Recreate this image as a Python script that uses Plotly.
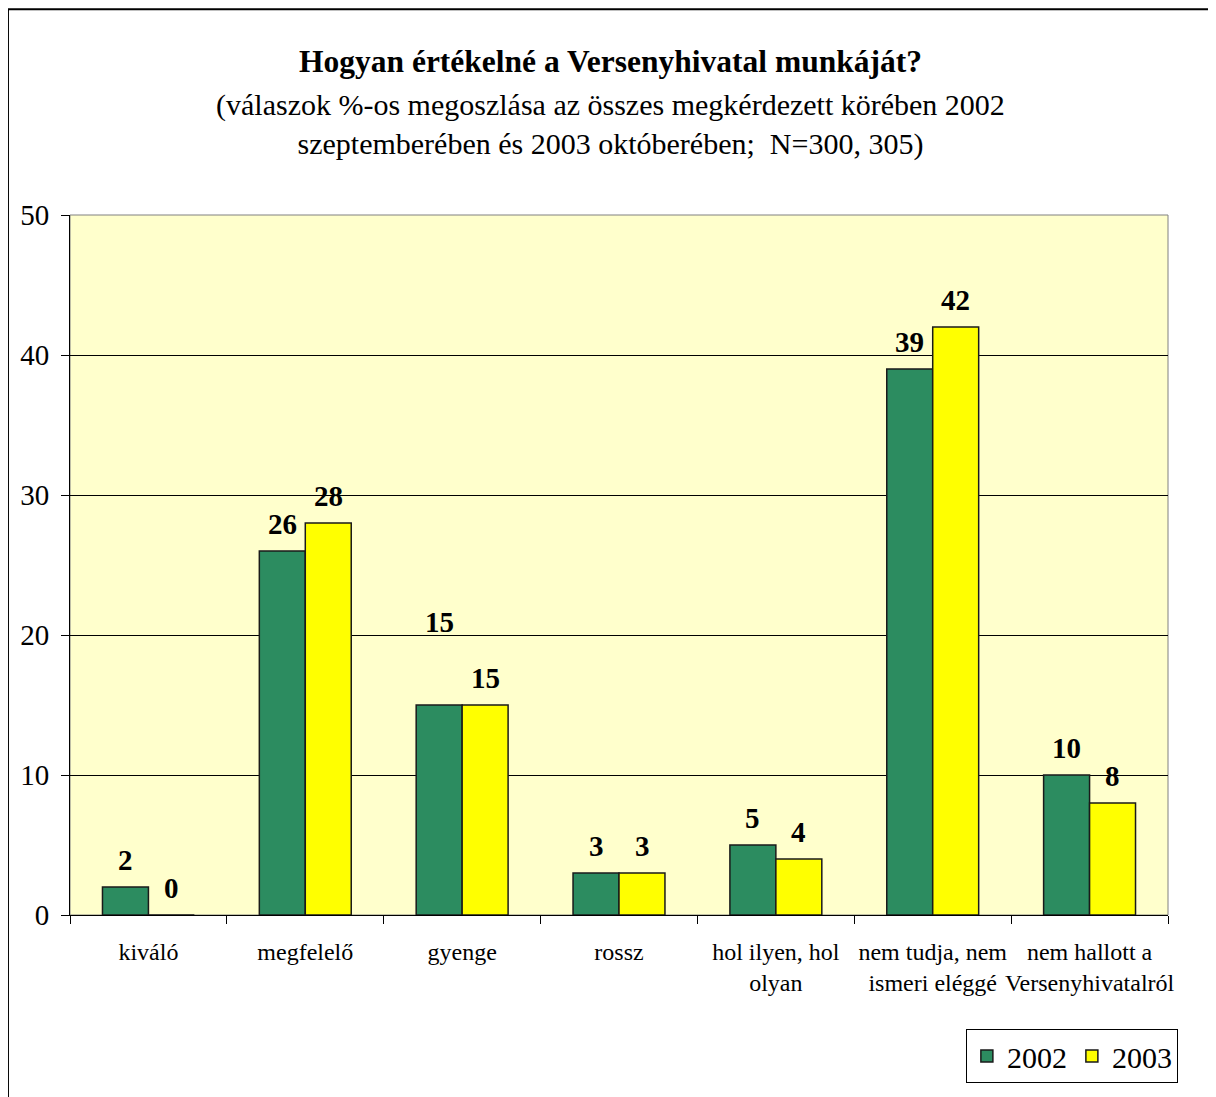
"""
Versenyhivatal felmérés - oszlopdiagram
"""

import plotly.graph_objects as go

categories = [
    'kiváló',
    'megfelelő',
    'gyenge',
    'rossz',
    'hol ilyen, hol<br>olyan',
    'nem tudja, nem<br>ismeri eléggé',
    'nem hallott a<br>Versenyhivatalról',
]
values_2002 = [2, 26, 15, 3, 5, 39, 10]
values_2003 = [0, 28, 15, 3, 4, 42, 8]
series_names = ['2002', '2003']
y_ticks = [0, 10, 20, 30, 40, 50]

FONT = 'Liberation Serif'
GREEN = '#2C8C60'
YELLOW = '#FFFF00'

fig = go.Figure()

fig.add_trace(go.Bar(
    x=categories, y=values_2002, name=series_names[0],
    marker=dict(color=GREEN, line=dict(color='#1a1a1a', width=1.5)),
))
fig.add_trace(go.Bar(
    x=categories, y=values_2003, name=series_names[1],
    marker=dict(color=YELLOW, line=dict(color='#1a1a1a', width=1.5)),
))

# címkék az oszlopok fölött
extra_shift = {(0, 2): 56}  # a 2002-es "gyenge" címke az eredetin feljebb áll
for s, vals in enumerate([values_2002, values_2003]):
    for i, v in enumerate(vals):
        fig.add_annotation(
            x=categories[i], y=v, xref='x', yref='y',
            text=f'<b>{v}</b>', showarrow=False,
            xshift=-23 if s == 0 else 23,
            yshift=27 + extra_shift.get((s, i), 0),
            font=dict(family=FONT, size=29, color='black'),
        )

# cím
fig.add_annotation(
    x=0.492, y=1.219, xref='paper', yref='paper', showarrow=False,
    yanchor='middle',
    text='<b>Hogyan értékelné a Versenyhivatal munkáját?</b>',
    font=dict(family=FONT, size=31.5, color='black'),
)
fig.add_annotation(
    x=0.492, y=1.13, xref='paper', yref='paper', showarrow=False,
    yanchor='middle',
    text='(válaszok %-os megoszlása az összes megkérdezett körében 2002<br>'
         'szeptemberében és 2003 októberében;  N=300, 305)',
    font=dict(family=FONT, size=30, color='black'),
)

# keretek
fig.add_shape(type='rect', xref='paper', yref='paper',
              x0=0, x1=1, y0=0, y1=1, layer='below',
              line=dict(color='#808080', width=1))
fig.add_shape(type='rect', xref='paper', yref='paper',
              x0=-0.0565, x1=1.039, y0=-0.35, y1=1.294,
              line=dict(color='black', width=2))

# az oldal 8 px-es margója miatt a méret kisebb
fig.update_layout(
    width=1208, height=1089,
    margin=dict(l=62, r=48, t=207, b=182),
    paper_bgcolor='white',
    plot_bgcolor='#FFFFCC',
    barmode='group',
    bargap=0.414,
    bargroupgap=0,
    font=dict(family=FONT, color='black'),
    showlegend=True,
    legend=dict(
        orientation='h',
        x=1.009, xanchor='right',
        y=-0.24, yanchor='bottom',
        bordercolor='black', borderwidth=1,
        bgcolor='white',
        font=dict(family=FONT, size=30),
        itemwidth=30,
    ),
)

fig.update_xaxes(
    showline=True, linecolor='black', linewidth=1,
    ticks='outside', tickson='boundaries', ticklen=8, tickcolor='black',
    tickfont=dict(family=FONT, size=24),
    tickangle=0, automargin=False,
    ticklabelstandoff=15,
    showgrid=False,
)
fig.update_yaxes(
    range=[0, 50], tickvals=y_ticks,
    showline=True, linecolor='black', linewidth=1,
    ticks='outside', ticklen=8, tickcolor='black',
    tickfont=dict(family=FONT, size=29),
    ticklabelstandoff=6,
    automargin=False,
    showgrid=True, gridcolor='black', gridwidth=1,
    zeroline=False,
)

fig.write_html('out.html')
